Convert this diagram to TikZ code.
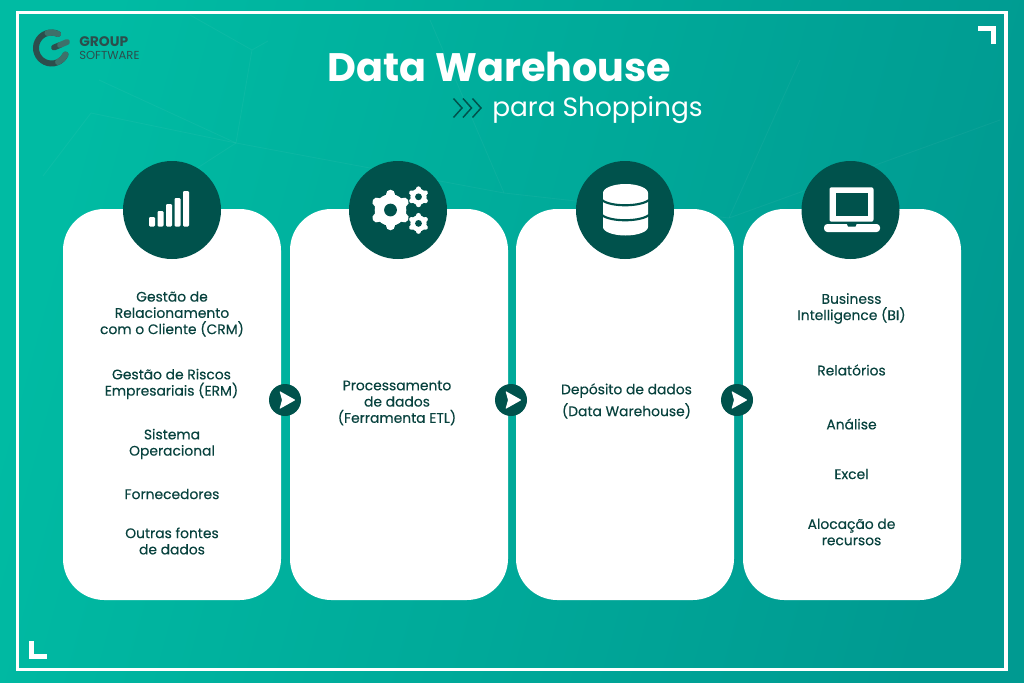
\documentclass[tikz,border=0pt]{standalone}
\usepackage{fontspec}
\setmainfont{Poppins}
\newfontfamily\bodyfont[FakeBold=0.25]{Poppins}
\usetikzlibrary{calc}
\definecolor{tealleft}{RGB}{0,187,163}
\definecolor{tealright}{RGB}{0,154,145}
\definecolor{darkteal}{RGB}{0,82,76}
\definecolor{inktext}{RGB}{8,66,62}
\definecolor{logoink}{RGB}{44,78,76}
\definecolor{logolight}{RGB}{62,112,106}
\tikzstyle{card}=[fill=white,draw=none,rounded corners=31pt,minimum width=163.5pt,minimum height=293.25pt,inner sep=0pt]
\tikzstyle{badge}=[circle,fill=darkteal,minimum size=73.5pt,inner sep=0pt]
\tikzstyle{stepdot}=[circle,fill=darkteal,minimum size=24pt,inner sep=0pt]
\tikzstyle{cardtext}=[align=center,text=inktext,inner sep=0pt,font=\bodyfont\fontsize{10.4}{12.2}\selectfont]
\tikzstyle{webline}=[white,opacity=0.045,line width=0.6pt]
\newcommand{\drawgear}[4]{% x, y, radius, hole radius
\foreach \a in {30,90,...,330} {
	\draw[white,line width=#3*0.35pt,line cap=round] ($(#1,#2)+(\a:#3*0.6)$) -- ($(#1,#2)+(\a:#3*0.78)$);
}
\fill[white] (#1,#2) circle (#3*0.79);
\fill[darkteal] (#1,#2) circle (#4);
}
\newcommand{\drawchevron}[1]{
\draw[darkteal,line width=1.1pt] (#1,98.5) -- (#1+8.5,108) -- (#1,117.5);
}
\newcommand{\drawarrowdot}[2]{
\node[stepdot] (#1) at (#2,400) {};
\fill[white,rounded corners=0.6pt] ($(#1)+(-5.5,-9)$) -- ($(#1)+(10.5,0)$) -- ($(#1)+(-5.5,9)$) -- ($(#1)+(-3,0)$) -- cycle;
}
\begin{document}
\begin{tikzpicture}[x=0.75pt,y=-0.75pt]
\useasboundingbox (0,0) rectangle (1024,682);
\shade[left color=tealleft,right color=tealright,shading angle=75] (0,0) rectangle (1024,682);
% faint web behind everything
\draw[webline] (43,176) -- (91,113) -- (236,143) -- (252,50) -- (268,41);
\draw[webline] (99,80) -- (236,143) -- (504,193) -- (729,218) -- (800,60);
\draw[webline] (236,143) -- (140,205);
\draw[webline] (252,50) -- (190,15);
\draw[webline] (504,193) -- (430,20);
\draw[webline] (729,218) -- (1000,120);
% frame
\draw[white,line width=2.7pt] (17.5,12.5) rectangle (1006,669.5);
\draw[white,line width=3.6pt] (31.5,641) -- (31.5,656.5) -- (47,656.5);
\draw[white,line width=3.6pt] (978,28.5) -- (993.5,28.5) -- (993.5,44);
% logo
\draw[logoink,line width=4.5pt,line cap=round] ($(51.5,48)+(-65:15.5)$) arc (-65:-335:15.5);
\draw[logolight,line width=4.5pt,line cap=round] ($(51.5,48)+(-65:15.5)$) arc (-65:-105:15.5);
\draw[logolight,line width=4.5pt,line cap=round] ($(51.5,48)+(-295:15.5)$) arc (-295:-335:15.5);
\draw[logoink,line width=4.4pt,line cap=round] (54,47.5) -- (60,45);
\draw[logolight,line width=4.4pt,line cap=round] (60,45) -- (67,42);
\node[anchor=west,inner sep=0pt,text=logoink,font=\fontsize{10.4}{11}\selectfont\bfseries] (logotop) at (79,42) {GROUP};
\node[anchor=west,inner sep=0pt,text=logoink,font=\fontsize{8.7}{9}\selectfont] (logobottom) at (79,55) {SOFTWARE};
% title
\node[text=white,inner sep=0pt,font=\fontsize{29.8}{32}\selectfont\bfseries] (title) at (499.5,67) {Data Warehouse};
\node[text=white,inner sep=0pt,anchor=west,font=\fontsize{19.8}{22}\selectfont] (subtitle) at (492,110) {para Shoppings};
\foreach \x in {453.5,463,472.5} {
	\drawchevron{\x}
}
% cards
\node[card] (sources) at (172,404.5) {};
\node[card] (etl) at (399,404.5) {};
\node[card] (warehouse) at (625,404.5) {};
\node[card] (output) at (852,404.5) {};
\node[badge] (signal) at (172,210) {};
\node[badge] (gears) at (398,210) {};
\node[badge] (database) at (625,210) {};
\node[badge] (laptop) at (850.5,210) {};
% signal bars
\foreach \x/\t in {152/217,160.5/211,169/204,177.5/198,186/191} {
	\fill[white,rounded corners=0.8pt] (\x-3,\t) rectangle (\x+3,226.5);
}
% gear icons
\drawgear{390.5}{210}{20}{6.4}
\drawgear{418.5}{196.8}{10.3}{3.4}
\drawgear{418.5}{223.4}{10.3}{3.4}
% database icon
\fill[white] (603,193) arc (180:360:22.5 and 9) -- (648,227) arc (0:180:22.5 and 8.5) -- cycle;
\draw[darkteal,line width=1.6pt] (602,200) .. controls (610,207) and (640,207) .. (649,200);
\draw[darkteal,line width=1.6pt] (602,215) .. controls (610,222) and (640,222) .. (649,215);
% laptop icon
\fill[white,rounded corners=1.5pt] (829.5,221.7) -- (829.5,187.3) -- (873.5,187.3) -- (873.5,221.7) -- cycle;
\fill[darkteal] (835.7,193.3) rectangle (868,216);
\fill[white,rounded corners=2.5pt] (824,224) -- (880,224) -- (880,232) -- (824,232) -- cycle;
\fill[darkteal] (846.5,223) -- (857,223) -- (855.5,226.5) -- (848,226.5) -- cycle;
% first card
\node[cardtext] (crm) at (172,314) {Gestão de\\Relacionamento\\com o Cliente (CRM)};
\node[cardtext] (erm) at (171.5,384) {Gestão de Riscos\\Empresariais (ERM)};
\node[cardtext] (operacional) at (172,444) {Sistema\\Operacional};
\node[cardtext] (fornecedores) at (172,494) {Fornecedores};
\node[cardtext] (fontes) at (172,541) {Outras fontes\\de dados};
% second and third card
\node[cardtext] (processing) at (397,403) {Processamento\\de dados\\(Ferramenta ETL)};
\node[cardtext] (deposit) at (626.5,401) {Depósito de dados\\[3pt](Data Warehouse)};
% last card
\node[cardtext] (bi) at (851.5,308.5) {Business\\Intelligence (BI)};
\node[cardtext] (reports) at (851.5,370) {Relatórios};
\node[cardtext] (analysis) at (851.5,424) {Análise};
\node[cardtext] (excel) at (851.5,474) {Excel};
\node[cardtext] (allocation) at (851.5,532) {Alocação de\\recursos};
% arrows between the cards
\drawarrowdot{first}{285}
\drawarrowdot{second}{511}
\drawarrowdot{third}{737}
\end{tikzpicture}
\end{document}
